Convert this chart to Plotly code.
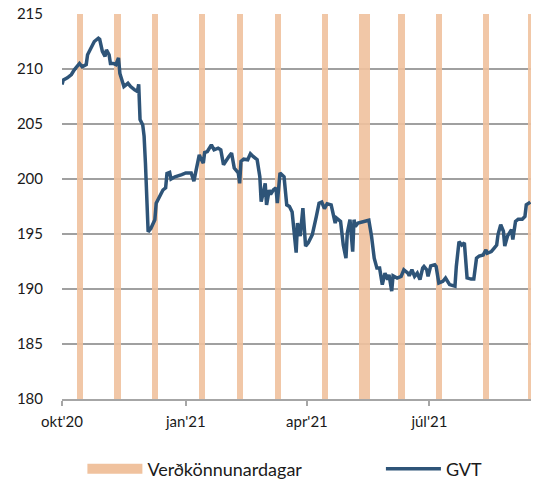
import plotly.graph_objects as go
import pandas as pd

# GVT index
gvt_dates = [
    "2020-10-01", "2020-10-02", "2020-10-05", "2020-10-08", "2020-10-10", "2020-10-14",
    "2020-10-16", "2020-10-19", "2020-10-20", "2020-10-23", "2020-10-25", "2020-10-28",
    "2020-10-29", "2020-10-31", "2020-11-02", "2020-11-03", "2020-11-05", "2020-11-06",
    "2020-11-08", "2020-11-10", "2020-11-12", "2020-11-13", "2020-11-15", "2020-11-16",
    "2020-11-19", "2020-11-21", "2020-11-24", "2020-11-26", "2020-11-27", "2020-11-28",
    "2020-11-30", "2020-12-01", "2020-12-02", "2020-12-03", "2020-12-04", "2020-12-06",
    "2020-12-09", "2020-12-10", "2020-12-13", "2020-12-15", "2020-12-17", "2020-12-18",
    "2020-12-20", "2020-12-21", "2020-12-24", "2020-12-27", "2020-12-29", "2021-01-01",
    "2021-01-05", "2021-01-07", "2021-01-09", "2021-01-11", "2021-01-12", "2021-01-14",
    "2021-01-15", "2021-01-17", "2021-01-20", "2021-01-22", "2021-01-25", "2021-01-27",
    "2021-01-29", "2021-01-31", "2021-02-02", "2021-02-04", "2021-02-06", "2021-02-09",
    "2021-02-10", "2021-02-11", "2021-02-13", "2021-02-16", "2021-02-18", "2021-02-20",
    "2021-02-23", "2021-02-25", "2021-02-26", "2021-02-28", "2021-03-01", "2021-03-02",
    "2021-03-04", "2021-03-05", "2021-03-07", "2021-03-09", "2021-03-10", "2021-03-12",
    "2021-03-15", "2021-03-17", "2021-03-19", "2021-03-21", "2021-03-24", "2021-03-25",
    "2021-03-27", "2021-03-29", "2021-03-31", "2021-04-02", "2021-04-05", "2021-04-08",
    "2021-04-10", "2021-04-12", "2021-04-14", "2021-04-16", "2021-04-19", "2021-04-22",
    "2021-04-23", "2021-04-26", "2021-04-28", "2021-04-30", "2021-05-01", "2021-05-03",
    "2021-05-05", "2021-05-06", "2021-05-07", "2021-05-09", "2021-05-13", "2021-05-17",
    "2021-05-19", "2021-05-21", "2021-05-23", "2021-05-25", "2021-05-27", "2021-05-29",
    "2021-05-31", "2021-06-01", "2021-06-03", "2021-06-04", "2021-06-07", "2021-06-10",
    "2021-06-12", "2021-06-15", "2021-06-16", "2021-06-18", "2021-06-20", "2021-06-22",
    "2021-06-24", "2021-06-26", "2021-06-27", "2021-06-29", "2021-06-30", "2021-07-02",
    "2021-07-05", "2021-07-06", "2021-07-08", "2021-07-11", "2021-07-13", "2021-07-16",
    "2021-07-20", "2021-07-21", "2021-07-23", "2021-07-25", "2021-07-27", "2021-07-28",
    "2021-07-29", "2021-08-01", "2021-08-03", "2021-08-05", "2021-08-07", "2021-08-10",
    "2021-08-12", "2021-08-13", "2021-08-16", "2021-08-18", "2021-08-20", "2021-08-21",
    "2021-08-23", "2021-08-25", "2021-08-26", "2021-08-28", "2021-08-31", "2021-09-01",
    "2021-09-03", "2021-09-05", "2021-09-08", "2021-09-10", "2021-09-11", "2021-09-14",
]
gvt_values = [
    208.6, 209.0, 209.2, 209.5, 209.9, 210.5,
    210.2, 210.4, 211.3, 212.05, 212.5, 212.8,
    212.7, 211.6, 211.15, 211.75, 211.3, 210.5,
    210.5, 210.4, 211.0, 209.6, 208.9, 208.4,
    208.7, 208.4, 208.1, 207.95, 208.6, 205.4,
    204.9, 203.9, 201.45, 197.8, 195.2, 195.5,
    196.3, 197.8, 198.6, 199.0, 199.2, 200.5,
    200.6, 200.0, 200.2, 200.3, 200.4, 200.55,
    200.55, 199.8, 200.85, 202.2, 201.9, 201.45,
    202.4, 202.5, 203.1, 202.65, 202.8, 202.65,
    201.3, 201.75, 202.05, 202.35, 201.0, 200.55,
    199.6, 201.6, 201.8, 201.75, 202.3, 202.05,
    201.75, 200.2, 197.95, 199.0, 199.6, 197.65,
    199.0, 198.6, 199.0, 199.2, 197.8, 200.55,
    200.2, 197.65, 197.5, 197.0, 193.3, 196.0,
    194.8, 197.35, 193.9, 194.2, 194.95, 196.6,
    197.8, 197.9, 197.3, 197.75, 197.65, 196.0,
    196.45, 196.15, 194.0, 192.8, 195.1, 196.3,
    193.4, 196.3, 195.7, 196.0, 196.15, 196.25,
    194.8, 192.8, 191.9, 191.9, 190.4, 191.45,
    190.85, 191.3, 189.8, 191.2, 191.0, 191.15,
    191.75, 191.45, 191.2, 191.75, 191.15, 191.45,
    190.85, 191.9, 192.05, 191.75, 191.15, 192.1,
    192.2, 192.05, 190.55, 190.7, 191.0, 190.4,
    190.25, 192.05, 194.3, 194.0, 194.2, 192.65,
    191.0, 190.9, 190.9, 192.8, 193.0, 193.1,
    193.55, 193.25, 193.4, 193.7, 194.0, 194.95,
    195.85, 195.25, 193.9, 194.8, 195.4, 194.5,
    196.15, 196.35, 196.35, 196.6, 197.65, 197.9,
]

# Price survey days (Verðkönnunardagar): start date and length in days
survey_start = [
    "2020-10-12", "2020-11-09", "2020-12-07", "2021-01-11", "2021-02-08", "2021-03-08",
    "2021-04-12", "2021-05-10", "2021-06-08", "2021-07-06", "2021-08-10", "2021-09-12",
]
survey_days = [4.5, 4.5, 4.5, 4.5, 4.5, 4.5, 4.5, 7.5, 4.5, 4.5, 4.5, 4.5]

y_min, y_max = 180, 215
tick_dates = ["2020-10-01", "2021-01-01", "2021-04-01", "2021-07-01"]
tick_labels = ["okt'20", "jan'21", "apr'21", "júl'21"]

DAY_MS = 86400000
starts = pd.to_datetime(survey_start)
centers = [s + pd.Timedelta(days=d / 2) for s, d in zip(starts, survey_days)]
widths = [d * DAY_MS for d in survey_days]

ORANGE = "#F0C29E"
NAVY = "#2E5478"
FONT = "Lato"
TXT = "#1a1a1a"

fig = go.Figure()
fig.add_trace(go.Bar(
    x=centers, y=[y_max - y_min] * len(centers), base=y_min, width=widths,
    marker=dict(color=ORANGE, line=dict(width=0)), opacity=0.9,
    name="Verðkönnunardagar", showlegend=False, hoverinfo="skip",
))
fig.add_trace(go.Scatter(
    x=[None], y=[None], mode="lines", name="Verðkönnunardagar",
    line=dict(color=ORANGE, width=10), showlegend=True, legend="legend",
))
fig.add_trace(go.Scatter(
    x=gvt_dates, y=gvt_values, mode="lines", name="GVT",
    line=dict(color=NAVY, width=3.5), legend="legend2",
))

legend_common = dict(
    orientation="h", xanchor="left", y=-0.182, yanchor="middle",
    itemwidth=55, font=dict(family=FONT, size=18, color=TXT),
    bgcolor="rgba(0,0,0,0)",
)
fig.update_layout(
    width=536, height=479,
    margin=dict(l=62, r=5, t=14, b=80, autoexpand=False),
    paper_bgcolor="white", plot_bgcolor="white",
    font=dict(family=FONT, size=15, color=TXT),
    showlegend=True,
    legend=dict(x=0.0435, **legend_common),
    legend2=dict(x=0.68, **legend_common),
    bargap=0,
)
fig.update_xaxes(
    type="date", range=["2020-10-01", "2021-09-14 12:00"],
    tickvals=tick_dates, ticktext=tick_labels,
    showgrid=False, showline=True, linecolor="#A6A6A6", linewidth=1.5,
    ticks="outside", ticklen=5, tickcolor="#A6A6A6", tickwidth=1.5,
    ticklabelstandoff=3,
    tickfont=dict(family=FONT, size=15, color=TXT),
)
fig.update_yaxes(
    range=[y_min, y_max], dtick=5, tick0=180,
    showgrid=True, gridcolor="#A0A0A0", gridwidth=1.5,
    showline=False, zeroline=False, ticks="",
    ticklabelstandoff=18,
    tickfont=dict(family=FONT, size=15, color=TXT),
)

fig.write_html(
    "out.html",
    config={"displayModeBar": False},
    post_script="document.body.style.margin='0px';",
)
